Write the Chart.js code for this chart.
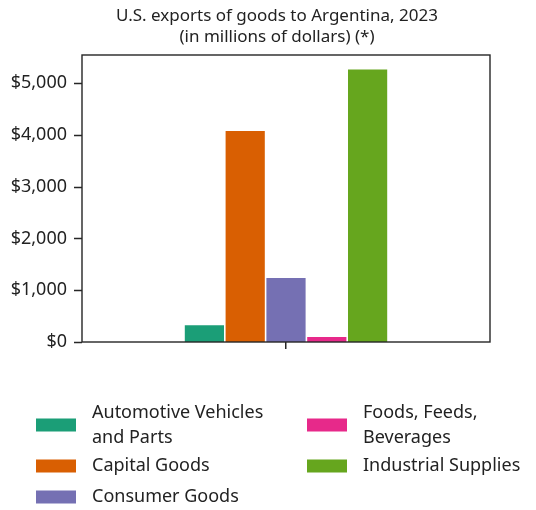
<!DOCTYPE html>
<html>
<head>
<meta charset="utf-8">
<script src="https://cdn.jsdelivr.net/npm/chart.js@4"></script>
<style>
  html, body { margin: 0; padding: 0; background: #fff; }
  #wrap { width: 536px; height: 510px; }
</style>
</head>
<body>
<div id="wrap"><canvas id="exportsChart" width="536" height="510"></canvas></div>
<script>
// US goods exports to Argentina by end-use category, 2023 (millions of dollars)
const categories = [
  "Automotive Vehicles and Parts",
  "Capital Goods",
  "Consumer Goods",
  "Foods, Feeds, Beverages",
  "Industrial Supplies",
];
const legendLines = [
  ["Automotive Vehicles", "and Parts"],
  ["Capital Goods"],
  ["Consumer Goods"],
  ["Foods, Feeds,", "Beverages"],
  ["Industrial Supplies"],
];
const values = [337, 4090, 1252, 110, 5277];
const colors = ["#1b9e77", "#d95f02", "#7570b3", "#e7298a", "#66a61e"];
const yTicks = [0, 1000, 2000, 3000, 4000, 5000];
const titleLines = ["U.S. exports of goods to Argentina, 2023", "(in millions of dollars) (*)"];

const FONT = "'Noto Sans', 'Open Sans', sans-serif";
const INK = "#222222";

// title, frame, y tick marks and two-column legend drawn straight on the canvas
const decorations = {
  id: "decorations",
  afterDraw(chart) {
    const ctx = chart.ctx;
    const area = chart.chartArea;
    const y = chart.scales.y;
    ctx.save();

    ctx.strokeStyle = "#262626";
    ctx.lineWidth = 1.4;
    ctx.strokeRect(area.left, area.top, area.right - area.left, area.bottom - area.top);

    ctx.lineWidth = 1.5;
    ctx.beginPath();
    yTicks.forEach((v) => {
      const py = Math.round(y.getPixelForValue(v)) + 0.5;
      ctx.moveTo(area.left - 8, py);
      ctx.lineTo(area.left, py);
    });
    ctx.stroke();

    ctx.fillStyle = INK;
    ctx.font = "17px " + FONT;
    ctx.textAlign = "center";
    ctx.textBaseline = "middle";
    titleLines.forEach((t, i) => ctx.fillText(t, 277, 16 + i * 21));

    // legend: first three entries on the left, the rest on the right
    const rowCenters = [425, 466, 497];
    const cols = [{ sw: 36, tx: 92 }, { sw: 307, tx: 363 }];
    ctx.font = "18px " + FONT;
    ctx.textAlign = "left";
    chart.data.datasets.forEach((ds, i) => {
      const col = cols[i < 3 ? 0 : 1];
      const cy = rowCenters[i < 3 ? i : i - 3];
      ctx.fillStyle = ds.backgroundColor;
      ctx.fillRect(col.sw, cy - 6.5, 40, 13);
      ctx.fillStyle = INK;
      const lines = legendLines[i];
      const lh = 25;
      lines.forEach((ln, j) => {
        ctx.fillText(ln, col.tx, cy - (lines.length - 1) * lh / 2 + j * lh);
      });
    });
    ctx.restore();
  },
};

new Chart(document.getElementById("exportsChart"), {
  type: "bar",
  data: {
    labels: [""],
    datasets: categories.map((name, i) => ({
      label: name,
      data: [values[i]],
      backgroundColor: colors[i],
      borderColor: "rgba(255,255,255,0.7)",
      borderWidth: 0.8,
      barPercentage: 1.0,
      categoryPercentage: 0.5,
    })),
  },
  options: {
    responsive: false,
    animation: false,
    layout: { padding: { top: 55, left: 0, right: 46, bottom: 0 } },
    plugins: {
      legend: { display: false },
      title: { display: false },
      tooltip: { enabled: false },
    },
    scales: {
      x: {
        offset: true,
        border: { display: false },
        grid: { offset: false, drawOnChartArea: false, drawTicks: true, tickLength: 7, color: "#262626", lineWidth: 1.5 },
        ticks: { display: true, font: { size: 1 } },
        afterFit(scale) { scale.height = 168; },
      },
      y: {
        min: 0,
        max: 5541,
        border: { display: false },
        grid: { display: false, drawTicks: true, tickLength: 7 },
        afterBuildTicks(scale) { scale.ticks = yTicks.map((v) => ({ value: v })); },
        ticks: {
          color: INK,
          padding: 8,
          font: { family: FONT, size: 18 },
          callback: (v) => "$" + Number(v).toLocaleString("en-US"),
        },
        afterFit(scale) { scale.width = 82; },
      },
    },
  },
  plugins: [decorations],
});
</script>
</body>
</html>
